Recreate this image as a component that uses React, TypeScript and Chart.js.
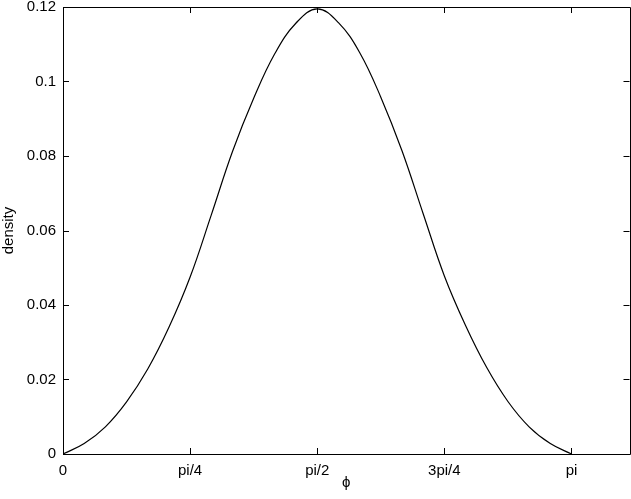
import React, { useEffect, useRef } from "react";
import { Chart, registerables } from "chart.js";

Chart.register(...registerables);

const PI = Math.PI;
const phiValues = [
  0, PI / 24, (2 * PI) / 24, (3 * PI) / 24, (4 * PI) / 24, (5 * PI) / 24, (6 * PI) / 24,
  (7 * PI) / 24, (8 * PI) / 24, (9 * PI) / 24, (10 * PI) / 24, (11 * PI) / 24, (12 * PI) / 24,
  (13 * PI) / 24, (14 * PI) / 24, (15 * PI) / 24, (16 * PI) / 24, (17 * PI) / 24, (18 * PI) / 24,
  (19 * PI) / 24, (20 * PI) / 24, (21 * PI) / 24, (22 * PI) / 24, (23 * PI) / 24, PI,
];
const densityValues = [
  0, 0.0028, 0.0073, 0.014, 0.0228, 0.034, 0.0475, 0.0642, 0.0812, 0.0955, 0.1075, 0.1157,
  0.1195, 0.1158, 0.1078, 0.0958, 0.0814, 0.0645, 0.0478, 0.0345, 0.0232, 0.0141, 0.0073,
  0.0028, 0,
];
const xTickValues = [0, PI / 4, PI / 2, (3 * PI) / 4, PI];
const xTickLabels = ["0", "pi/4", "pi/2", "3pi/4", "pi"];
const yTickValues = [0, 0.02, 0.04, 0.06, 0.08, 0.1, 0.12];
const xLabel = "\u03d5";
const yLabel = "density";

const FONT = "'Liberation Sans', Arial, Helvetica, sans-serif";

const boxPlugin = {
  id: "boxTicks",
  afterDraw(chart: any) {
    const { ctx, chartArea } = chart;
    const { left, right, top, bottom } = chartArea;
    const xs = chart.scales.x;
    const ys = chart.scales.y;
    const len = 6;
    ctx.save();
    ctx.strokeStyle = "#000";
    ctx.lineWidth = 1;
    ctx.beginPath();
    ctx.rect(Math.round(left) + 0.5, Math.round(top) + 0.5, Math.round(right - left), Math.round(bottom - top));
    ctx.stroke();
    ctx.beginPath();
    xTickValues.forEach((v) => {
      const px = Math.round(xs.getPixelForValue(v)) + 0.5;
      ctx.moveTo(px, bottom);
      ctx.lineTo(px, bottom - len);
      ctx.moveTo(px, top);
      ctx.lineTo(px, top + len);
    });
    yTickValues.forEach((v) => {
      const py = Math.round(ys.getPixelForValue(v)) + 0.5;
      ctx.moveTo(left, py);
      ctx.lineTo(left + len, py);
      ctx.moveTo(right, py);
      ctx.lineTo(right - len, py);
    });
    ctx.stroke();
    ctx.restore();
  },
};

export default function App() {
  const ref = useRef<HTMLCanvasElement | null>(null);
  useEffect(() => {
    document.body.style.margin = "0";
    const canvas = ref.current;
    if (!canvas) return;
    const chart = new Chart(canvas, {
      type: "line",
      data: {
        datasets: [
          {
            data: phiValues.map((x, i) => ({ x, y: densityValues[i] })),
            borderColor: "#000",
            borderWidth: 1.2,
            pointRadius: 0,
            fill: false,
            tension: 0.4,
          },
        ],
      },
      options: {
        responsive: false,
        animation: false,
        devicePixelRatio: 1,
        layout: { padding: { top: 7, right: 1.5, left: 0, bottom: 0 } },
        plugins: { legend: { display: false }, tooltip: { enabled: false } },
        scales: {
          x: {
            type: "linear",
            min: 0,
            max: 3.5,
            grid: { display: false, drawTicks: false },
            border: { display: false },
            afterBuildTicks: (scale: any) => {
              scale.ticks = xTickValues.map((v) => ({ value: v }));
            },
            afterFit: (scale: any) => {
              scale.height = 45;
              scale.paddingLeft = 0;
              scale.paddingRight = 0;
            },
            ticks: {
              color: "#000",
              padding: 8,
              maxRotation: 0,
              autoSkip: false,
              font: { family: FONT, size: 15 },
              callback: (_v: any, i: number) => xTickLabels[i],
            },
            title: {
              display: true,
              text: xLabel,
              color: "#000",
              font: { family: FONT, size: 15 },
              padding: { top: 0, bottom: 7 },
            },
          },
          y: {
            type: "linear",
            min: 0,
            max: 0.12,
            grid: { display: false, drawTicks: false },
            border: { display: false },
            afterBuildTicks: (scale: any) => {
              scale.ticks = yTickValues.map((v) => ({ value: v }));
            },
            afterFit: (scale: any) => {
              scale.width = 63;
              scale.paddingTop = 0;
              scale.paddingBottom = 0;
            },
            ticks: {
              color: "#000",
              padding: 7,
              font: { family: FONT, size: 15 },
              callback: (v: any) => String(+Number(v).toFixed(2)),
            },
            title: {
              display: true,
              text: yLabel,
              color: "#000",
              font: { family: FONT, size: 15 },
              padding: 0,
            },
          },
        },
      },
      plugins: [boxPlugin],
    } as any);
    return () => chart.destroy();
  }, []);
  return (
    <div style={{ position: "absolute", left: 0, top: 0, width: 631, height: 499, background: "#fff" }}>
      <canvas ref={ref} width={631} height={499} style={{ width: 631, height: 499 }} />
    </div>
  );
}
